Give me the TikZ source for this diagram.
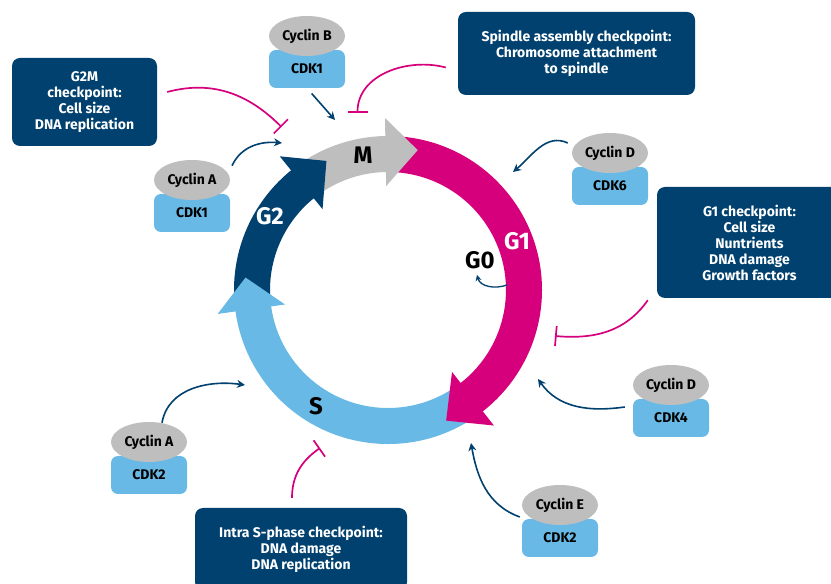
\documentclass[tikz,border=0pt]{standalone}
\usepackage{fontspec}
\setmainfont{Fira Sans}
\usepackage{tikz}
\usetikzlibrary{shapes.geometric,arrows.meta}

\definecolor{navy}{HTML}{00416F}
\definecolor{magent}{HTML}{D6007D}
\definecolor{skyb}{HTML}{68B9E5}
\definecolor{cycgray}{HTML}{BEBEBE}

% ring pieces: body from angle #2 to #3, head from base #2 to tip #3
\newcommand{\ringbody}[3]{\fill[#1] (#2:154) arc[start angle=#2,end angle=#3,radius=154] -- (#3:118) arc[start angle=#3,end angle=#2,radius=118] -- cycle;}
\newcommand{\ringhead}[3]{\fill[#1] (#2:172) -- (#3:143) -- (#2:104) -- cycle;}

\begin{document}
\begin{tikzpicture}[x=1pt,y=1pt,
  phase/.style={font=\fontsize{24}{24}\selectfont\bfseries, inner sep=0pt},
  checkbox/.style={fill=navy, text=white, rounded corners=8pt, align=center, inner sep=0pt, font=\fontsize{14}{16}\selectfont\bfseries},
  cdk/.style={fill=skyb, rounded corners=7pt, minimum width=76pt, minimum height=38pt, inner sep=0pt, font=\fontsize{14}{16}\selectfont\bfseries},
  cyc/.style={ellipse, fill=cycgray, minimum width=76pt, minimum height=40pt, inner sep=0pt, font=\fontsize{14}{16}\selectfont\bfseries},
  act/.style={navy, line width=1.6pt, -{Stealth[length=8pt,width=8pt]}},
  inhib/.style={magent, line width=1.7pt, -{Bar[width=20pt]}}]
\clip (0,0) rectangle (831,584);
\fill[white] (0,0) rectangle (831,584);

% the cycle
\begin{scope}[shift={(388,294)}]
\ringbody{cycgray}{127}{90.5}
\ringbody{magent}{87}{-52.5}
\ringbody{skyb}{-56}{-172.5}
\ringbody{navy}{184}{128.5}
\ringhead{cycgray}{91}{78}
\ringhead{magent}{-52}{-66}
\ringhead{skyb}{-172}{-185}
\ringhead{navy}{129}{115.5}
\end{scope}

\node[phase] (m) at (363,429) {M};
\node[phase, text=white] (g2) at (270,367.5) {G2};
\node[phase, text=white] (g1) at (517,342.5) {G1};
\node[phase] (g0) at (480,324) {G0};
\node[phase] (s) at (316,178) {S};

\coordinate (g0start) at (507,299);
\draw[navy, line width=1.3pt, -{Stealth[length=6pt,width=6pt]}] (g0start) to[out=200,in=-75] ([xshift=-3pt,yshift=-6pt]g0.south);

% checkpoints
\node[checkbox, minimum width=145pt, minimum height=88pt] (g2m) at (84.5,482) {G2M\\checkpoint:\\Cell size\\DNA replication};
\node[checkbox, minimum width=237pt, minimum height=83pt] (spin) at (576.5,530.5) {Spindle assembly checkpoint:\\Chromosome attachment\\to spindle};
\node[checkbox, minimum width=185pt, minimum height=111pt] (g1box) at (749.5,341.5) {G1 checkpoint:\\Cell size\\Nuntrients\\DNA damage\\Growth factors};
\node[checkbox, minimum width=212pt, minimum height=82pt] (isbox) at (301,35) {Intra S-phase checkpoint:\\DNA damage\\DNA replication};

% cyclin/CDK pairs
\foreach \n/\x/\y/\cyc/\cdk in {B1/307/548/Cyclin B/CDK1, A1/192/404/Cyclin A/CDK1, D6/610/431/Cyclin D/CDK6, A2/149/142/Cyclin A/CDK2, D4/671/199/Cyclin D/CDK4, E2/560/79/Cyclin E/CDK2}{
  \node[cdk] (k\n) at (\x,\y-33) {\cdk};
  \node[cyc] (c\n) at (\x,\y) {\cyc};
}

\coordinate (tB1) at (335,464);
\coordinate (tA1) at (282,441);
\coordinate (tD6) at (513,412);
\coordinate (tA2) at (245,199);
\coordinate (tD4) at (538,205);
\coordinate (tE2) at (471,141);
\draw[act, shorten <=7pt] (kB1.south) -- (tB1);
\draw[act] ([xshift=13pt]cA1.north east) to[out=65,in=175] (tA1);
\draw[act] ([xshift=-4pt,yshift=10pt]cD6.west) to[out=155,in=40] (tD6);
\draw[act] ([xshift=13pt,yshift=-1pt]cA2.north) to[out=80,in=172] (tA2);
\draw[act] ([xshift=-8pt,yshift=11pt]kD4.west) to[out=188,in=-55] (tD4);
\draw[act] ([xshift=-2pt,yshift=-12pt]cE2.west) to[out=160,in=-80] (tE2);

\coordinate (iG2M) at (281.5,457);
\coordinate (iM) at (357.5,471);
\coordinate (iG1) at (555,248);
\coordinate (iS) at (320,136);
\draw[inhib] ([xshift=10pt,yshift=10pt]g2m.east) to[out=15,in=135] (iG2M);
\draw[inhib] ([xshift=-12pt,yshift=-14pt]spin.west) to[out=165,in=90] (iM);
\draw[inhib] ([xshift=-9pt,yshift=-2pt]g1box.south west) to[out=235,in=-5] (iG1);
\draw[inhib] ([xshift=-9pt,yshift=10pt]isbox.north) to[out=90,in=215] (iS);
\end{tikzpicture}
\end{document}
